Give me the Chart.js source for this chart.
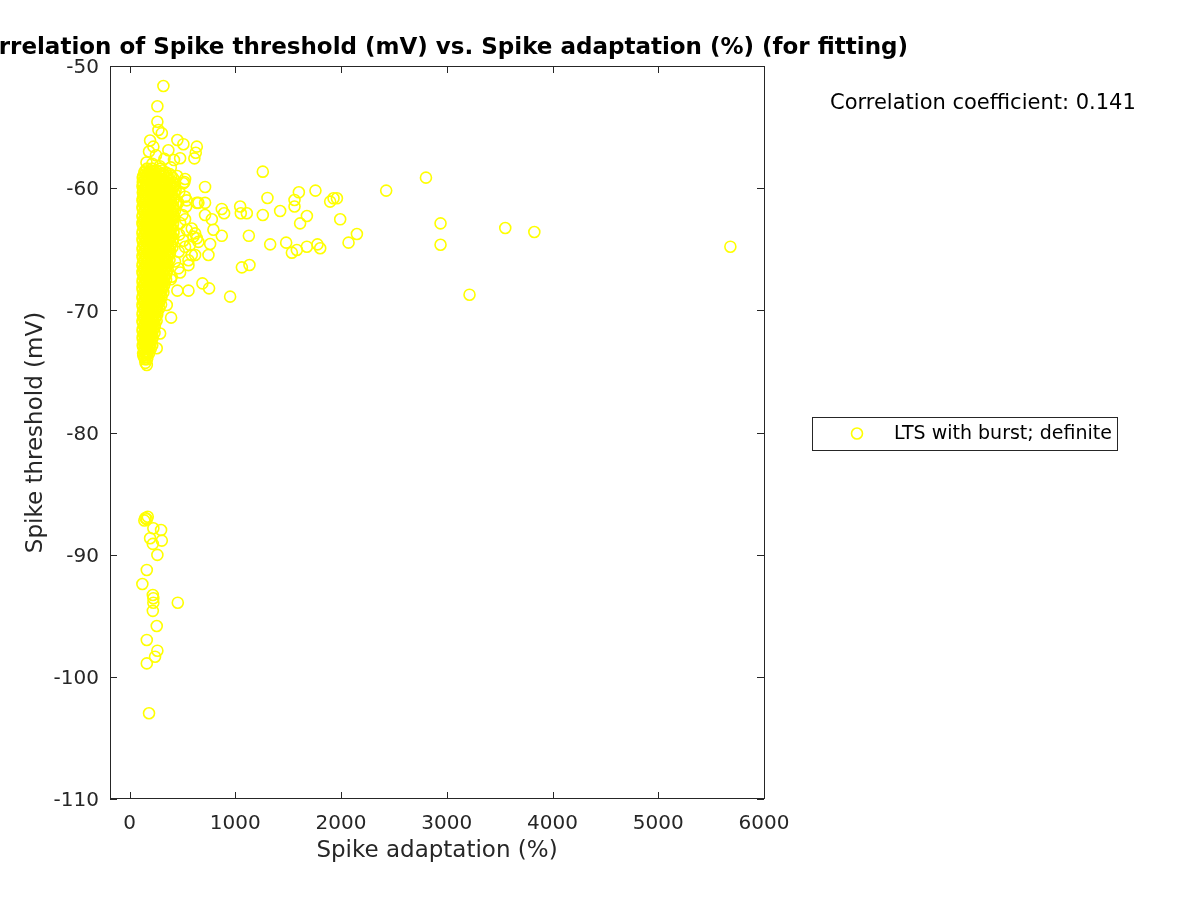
<!DOCTYPE html>
<html>
<head>
<meta charset="utf-8">
<script src="https://cdn.jsdelivr.net/npm/chart.js@4.4.1/dist/chart.umd.min.js"></script>
<style>
html,body{margin:0;padding:0;background:#fff;}
#wrap{width:1200px;height:900px;position:relative;}
</style>
</head>
<body>
<div id="wrap"><canvas id="c" width="1200" height="900"></canvas></div>
<script>
// ---------------- DATA ----------------
const chartTitle = 'Correlation of Spike threshold (mV) vs. Spike adaptation (%) (for fitting)';
const xLabel = 'Spike adaptation (%)';
const yLabel = 'Spike threshold (mV)';
const seriesName = 'LTS with burst; definite';
const corrText = 'Correlation coefficient: 0.141';
const xTicks = [0, 1000, 2000, 3000, 4000, 5000, 6000];
const yTicks = [-110, -100, -90, -80, -70, -60, -50];

// dense core: one threshold per row, adaptation values of that row
const blobThreshold = [
  -58.4, -58.7, -59.0, -59.35, -59.7, -60.0, -60.35, -60.7, -61.0, -61.35,
  -61.7, -62.0, -62.35, -62.7, -63.0, -63.35, -63.7, -64.0, -64.35, -64.7,
  -65.0, -65.35, -65.7, -66.0, -66.35, -66.7, -67.0, -67.35, -67.7, -68.0,
  -68.35, -68.7, -69.0, -69.35, -69.7, -70.0, -70.35, -70.7, -71.0, -71.35,
  -71.7, -72.0, -72.35, -72.7, -73.0, -73.35, -73.7, -74.0, -74.3
];
const blobAdaptation = [
  [165, 215, 290],
  [140, 185, 235, 280, 340],
  [130, 165, 205, 250, 300, 360, 395],
  [145, 185, 230, 275, 320, 370],
  [128, 165, 205, 250, 295, 345, 390, 430],
  [140, 180, 225, 270, 315, 360, 410],
  [125, 160, 200, 245, 290, 335, 380, 420],
  [135, 178, 220, 262, 305, 350, 395],
  [122, 155, 195, 240, 285, 330, 375, 415],
  [138, 175, 215, 258, 300, 345, 390, 440],
  [125, 158, 198, 240, 280, 325, 370, 410],
  [140, 178, 220, 262, 305, 350, 395],
  [123, 160, 200, 242, 285, 330, 372, 420],
  [137, 175, 218, 260, 302, 345, 392],
  [125, 158, 198, 240, 283, 325, 368, 410],
  [140, 180, 222, 265, 308, 350, 395],
  [122, 160, 200, 243, 286, 330, 372, 415],
  [138, 178, 220, 262, 305, 348, 390],
  [125, 158, 198, 240, 282, 325, 365, 408],
  [140, 180, 220, 262, 305, 345, 385],
  [123, 160, 200, 242, 284, 325, 368],
  [137, 178, 218, 260, 300, 340, 380],
  [125, 158, 198, 238, 280, 322, 360],
  [140, 178, 218, 258, 298, 340],
  [122, 160, 198, 238, 278, 318, 355],
  [137, 176, 215, 255, 295, 335],
  [125, 158, 196, 235, 275, 315, 350],
  [140, 178, 215, 255, 292, 330],
  [123, 160, 198, 236, 275, 312],
  [138, 175, 212, 250, 290, 325],
  [125, 158, 195, 232, 270, 305],
  [140, 176, 212, 248, 285],
  [122, 158, 194, 230, 265, 300],
  [137, 173, 208, 245, 280],
  [125, 158, 192, 228, 262],
  [140, 175, 210, 245],
  [123, 158, 192, 228, 262],
  [138, 172, 206, 240],
  [125, 158, 190, 225],
  [140, 173, 206, 238],
  [123, 156, 188, 220],
  [138, 170, 202],
  [125, 155, 186, 215],
  [140, 170, 200],
  [128, 158, 188],
  [142, 172],
  [130, 160],
  [145, 165],
  [150]
];
// second interleaved set of rows in the core
const blobThreshold2 = [
  -58.55, -58.85, -59.17, -59.52, -59.85, -60.17, -60.52, -60.85, -61.17, -61.52,
  -61.85, -62.17, -62.52, -62.85, -63.17, -63.52, -63.85, -64.17, -64.52, -64.85,
  -65.17, -65.52, -65.85, -66.17, -66.52, -66.85, -67.17, -67.52, -67.85, -68.17,
  -68.52, -68.85, -69.17, -69.52, -69.85, -70.17, -70.52, -70.85, -71.17, -71.52,
  -71.85, -72.17, -72.52, -72.85, -73.17, -73.52, -73.85
];
const blobAdaptation2 = [
  [150, 195, 250, 310],
  [150, 190, 230, 275, 320, 380],
  [125, 150, 185, 225, 265, 345, 410],
  [125, 160, 205, 250, 300, 350, 410],
  [122, 155, 200, 240, 285, 330, 380, 420],
  [130, 160, 205, 250, 295, 340, 390, 435],
  [140, 180, 225, 270, 315, 360, 400],
  [125, 155, 200, 240, 285, 328, 372, 420],
  [138, 175, 218, 262, 305, 352, 395],
  [122, 155, 195, 238, 280, 322, 368, 415],
  [140, 178, 220, 262, 302, 348, 390, 430],
  [125, 158, 200, 240, 285, 328, 372, 415],
  [140, 180, 222, 265, 308, 350, 398],
  [122, 157, 198, 240, 282, 325, 370, 412],
  [138, 178, 220, 262, 305, 348, 390],
  [125, 160, 200, 243, 285, 328, 372, 415],
  [140, 180, 222, 265, 308, 350, 392],
  [122, 158, 198, 240, 283, 325, 368, 410],
  [138, 178, 220, 262, 302, 345, 388],
  [125, 160, 200, 240, 282, 325, 365, 405],
  [140, 180, 220, 262, 303, 345, 385],
  [122, 158, 198, 240, 280, 320, 360],
  [138, 178, 218, 258, 300, 340, 378],
  [125, 158, 198, 238, 278, 320, 360],
  [140, 178, 218, 258, 298, 338],
  [122, 158, 196, 236, 275, 315, 352],
  [138, 176, 215, 255, 295, 332],
  [125, 158, 196, 235, 272, 310, 345],
  [140, 178, 215, 255, 292, 330],
  [122, 158, 195, 232, 270, 308],
  [138, 175, 212, 250, 288, 320],
  [125, 158, 194, 230, 266, 300],
  [140, 176, 212, 248, 283],
  [122, 156, 190, 226, 262, 298],
  [140, 175, 210, 245, 280],
  [125, 158, 192, 228, 260],
  [140, 175, 210, 245],
  [122, 156, 190, 224, 256],
  [140, 173, 206, 240],
  [125, 158, 190, 222],
  [140, 172, 204, 236],
  [125, 155, 186, 218],
  [140, 170, 200],
  [125, 155, 185, 215],
  [140, 170, 200],
  [128, 156, 184],
  [140, 168]
];

// individual points around the core
const otherAdaptation = [
  320, 263, 263, 273, 305, 194, 184, 225, 367, 452,
  509, 636, 626, 613, 478, 250, 330, 160, 215, 285,
  390, 420,
  519, 525, 509, 714, 525, 636, 714, 535, 872, 894,
  1046, 1109, 1052, 714, 778, 793, 872, 1128, 620, 604,
  651, 762, 746, 572, 620, 1062, 1134, 951, 689, 752,
  557, 452, 393, 352, 289, 257, 163, 478, 588, 525,
  557, 462, 557, 478, 399, 390, 541, 525, 541, 588,
  636, 651, 470, 460, 500, 470, 510, 465, 430, 450,
  1260, 1260, 1304, 1424, 1560, 1560, 1601, 1758, 1897, 1929,
  1961, 1992, 1677, 1613, 1330, 1481, 1582, 1535, 1677, 1777,
  1803, 2071, 2150, 2427, 2803, 2941, 2941, 3553, 3828, 3215,
  5682,
  150, 163, 140, 172, 225, 298, 194, 305, 220, 263,
  163, 121, 220, 225, 225, 456, 220, 257, 163, 263,
  241, 163, 184
];
const otherThreshold = [
  -51.64, -53.3, -54.56, -55.24, -55.5, -56.1, -57.0, -56.6, -56.9, -56.06,
  -56.4, -56.6, -57.1, -57.56, -57.55, -57.3, -57.6, -57.9, -58.0, -58.2,
  -58.3, -57.7,
  -59.5, -59.25, -59.6, -59.9, -60.7, -61.2, -61.2, -61.5, -61.7, -62.05,
  -61.5, -62.05, -62.05, -62.2, -62.55, -63.4, -63.9, -63.9, -63.7, -63.97,
  -64.4, -64.57, -65.47, -64.65, -65.47, -66.48, -66.29, -68.88, -67.79, -68.2,
  -68.39, -68.39, -70.6, -69.56, -71.9, -73.1, -74.47, -62.85, -63.3, -64.8,
  -65.9, -66.56, -66.3, -66.9, -67.25, -67.46, -61.0, -62.55, -63.4, -65.47,
  -64.1, -61.2, -60.3, -61.2, -62.2, -63.8, -64.3, -65.2, -66.0, -59.0,
  -58.65, -62.2, -60.8, -61.87, -61.5, -60.97, -60.34, -60.2, -61.1, -60.83,
  -60.83, -62.55, -62.28, -62.88, -64.6, -64.46, -65.06, -65.28, -64.79, -64.6,
  -64.92, -64.46, -63.75, -60.2, -59.14, -62.88, -64.63, -63.26, -63.59, -68.72,
  -64.79,
  -87.0, -87.1, -87.2, -86.9, -87.84, -87.98, -88.66, -88.85, -89.12, -90.02,
  -91.25, -92.4, -93.3, -93.57, -93.93, -93.93, -94.6, -95.84, -96.98, -97.86,
  -98.35, -98.9, -102.98
];

// ---------------- BUILD ----------------
const points = [];
blobThreshold.forEach((y, i) => blobAdaptation[i].forEach(x => points.push({x: x, y: y})));
blobThreshold2.forEach((y, i) => blobAdaptation2[i].forEach(x => points.push({x: x, y: y})));
otherAdaptation.forEach((x, i) => points.push({x: x, y: otherThreshold[i]}));

const FONT = "'DejaVu Sans', 'Noto Sans', sans-serif";
const AX = '#262626';
const YELLOW = '#ffff00';

const framePlugin = {
  id: 'frame',
  afterDraw(chart) {
    const ctx = chart.ctx;
    const a = chart.chartArea;
    const xs = chart.scales.x, ys = chart.scales.y;
    ctx.save();
    ctx.strokeStyle = AX;
    ctx.lineWidth = 1;
    ctx.strokeRect(Math.round(a.left) + 0.5, Math.round(a.top) + 0.5,
                   Math.round(a.right - a.left), Math.round(a.bottom - a.top) - 1);
    const tl = 7;
    ctx.beginPath();
    xTicks.forEach(v => {
      const p = Math.round(xs.getPixelForValue(v)) + 0.5;
      ctx.moveTo(p, a.bottom); ctx.lineTo(p, a.bottom - tl);
      ctx.moveTo(p, a.top); ctx.lineTo(p, a.top + tl);
    });
    yTicks.forEach(v => {
      const p = Math.round(ys.getPixelForValue(v)) + 0.5;
      ctx.moveTo(a.left, p); ctx.lineTo(a.left + tl, p);
      ctx.moveTo(a.right, p); ctx.lineTo(a.right - tl, p);
    });
    ctx.stroke();

    // title
    ctx.fillStyle = '#000';
    ctx.font = 'bold 23px ' + FONT;
    ctx.textAlign = 'center';
    ctx.textBaseline = 'middle';
    ctx.fillText(chartTitle, (a.left + a.right) / 2, 48);

    // correlation text
    ctx.font = '21px ' + FONT;
    ctx.textAlign = 'left';
    ctx.fillText(corrText, 830, 104);

    // legend
    ctx.strokeStyle = AX;
    ctx.lineWidth = 1;
    ctx.strokeRect(812.5, 417.5, 305, 33);
    ctx.beginPath();
    ctx.strokeStyle = YELLOW;
    ctx.lineWidth = 1.6;
    ctx.arc(857, 433.5, 5.5, 0, Math.PI * 2);
    ctx.stroke();
    ctx.fillStyle = '#000';
    ctx.font = '19px ' + FONT;
    ctx.textBaseline = 'middle';
    ctx.fillText(seriesName, 894, 434);
    ctx.restore();
  }
};

new Chart(document.getElementById('c'), {
  type: 'scatter',
  data: {
    datasets: [{
      label: seriesName,
      data: points,
      pointStyle: 'circle',
      pointRadius: 5.5,
      pointHoverRadius: 5.5,
      borderWidth: 1.6,
      borderColor: YELLOW,
      backgroundColor: 'rgba(0,0,0,0)'
    }]
  },
  options: {
    responsive: false,
    animation: false,
    devicePixelRatio: 1,
    layout: { padding: { left: 0, right: 436, top: 66, bottom: 0 } },
    plugins: { legend: { display: false }, title: { display: false }, tooltip: { enabled: false } },
    events: [],
    scales: {
      x: {
        type: 'linear', min: -185, max: 6000,
        afterBuildTicks: s => { s.ticks = xTicks.map(v => ({value: v})); },
        afterFit: s => { s.height = 101; },
        grid: { display: false, drawTicks: false },
        border: { display: false },
        ticks: { color: AX, font: { family: FONT, size: 20 }, padding: 13, maxRotation: 0,
                 callback: v => String(v) },
        title: { display: true, text: xLabel, color: AX, font: { family: FONT, size: 23 },
                 padding: { top: 0, bottom: 35 } }
      },
      y: {
        type: 'linear', min: -110, max: -50,
        afterBuildTicks: s => { s.ticks = yTicks.map(v => ({value: v})); },
        afterFit: s => { s.width = 110; },
        grid: { display: false, drawTicks: false },
        border: { display: false },
        ticks: { color: AX, font: { family: FONT, size: 20 }, padding: 11, labelOffset: 2,
                 callback: v => String(v) },
        title: { display: true, text: yLabel, color: AX, font: { family: FONT, size: 23 },
                 padding: { top: 22, bottom: 0 } }
      }
    }
  },
  plugins: [framePlugin]
});
</script>
</body>
</html>
